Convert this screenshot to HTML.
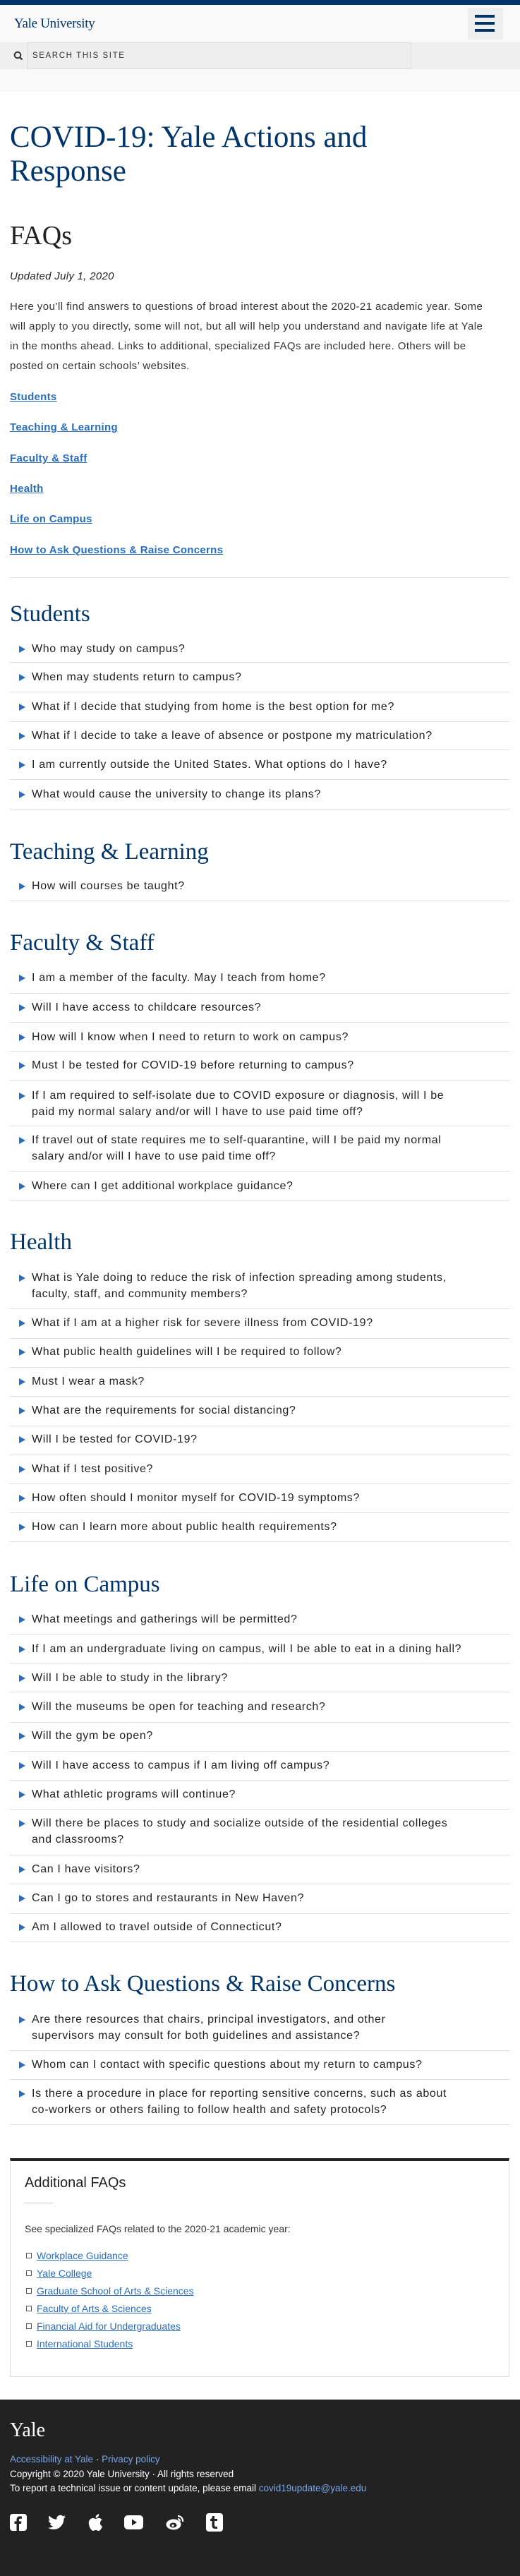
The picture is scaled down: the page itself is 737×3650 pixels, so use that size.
<!DOCTYPE html>
<html><head><meta charset="utf-8">
<style>
*{margin:0;padding:0;box-sizing:border-box}
html,body{width:737px;height:3650px;overflow:hidden;background:#fff;position:relative;font-family:"Liberation Sans",sans-serif;color:#222}
.a{position:absolute;white-space:nowrap}
.h{font-family:"Liberation Serif",serif;color:#00356b;font-size:33px;line-height:33px;left:14px}
.q{left:45px;font-size:16px;line-height:23px;letter-spacing:0.65px;color:#222}
.t{left:27px;width:0;height:0;border-left:9px solid #286dc0;border-top:5px solid transparent;border-bottom:5px solid transparent}
.s{left:14px;width:708px;height:1px;background:#ddd}
.lk{left:14px;font-size:15px;line-height:15px;font-weight:bold;color:#286dc0;text-decoration:underline;letter-spacing:0.3px}
.al{left:52px;font-size:14px;line-height:14px;color:#286dc0;text-decoration:underline}
.cb{left:37px;width:8px;height:8px;border:1px solid #555}
.ft{left:14px;font-size:13.5px;line-height:14px;color:#fff}
.ft a{color:#7aa6e6;text-decoration:none}
</style></head><body>
<div class="a" style="left:0;top:0;width:737px;height:7px;background:#00356b"></div>
<div class="a" style="left:0;top:7px;width:737px;height:53px;background:#f9f9f9"></div>
<div class="a" style="left:20px;top:24px;font-family:'Liberation Serif',serif;font-size:19px;line-height:19px;color:#00356b;letter-spacing:-0.3px">Yale University</div>
<div class="a" style="left:663px;top:11px;width:50px;height:45px;background:#efefef">
<div style="position:absolute;left:10px;top:10px;width:28px;height:4px;background:#00356b"></div>
<div style="position:absolute;left:10px;top:20px;width:28px;height:4px;background:#00356b"></div>
<div style="position:absolute;left:10px;top:30px;width:28px;height:4px;background:#00356b"></div>
</div>
<div class="a" style="left:0;top:60px;width:737px;height:38px;background:#efefef"></div>
<svg class="a" style="left:19px;top:72px" width="14" height="14" viewBox="0 0 14 14"><circle cx="6" cy="6" r="4.3" fill="none" stroke="#333" stroke-width="2"/><line x1="9" y1="9" x2="12.5" y2="12.5" stroke="#333" stroke-width="2.2"/></svg>
<div class="a" style="left:38px;top:60px;width:545px;height:38px;background:#eeeeee;border:1px solid #dcdcdc"></div>
<div class="a" style="left:46px;top:73px;font-size:11.5px;line-height:12px;letter-spacing:1.6px;color:#333">SEARCH THIS SITE</div>
<div class="a" style="left:0;top:98px;width:737px;height:32px;background:#f9f9f9"></div>

<div class="a" style="left:14px;top:171px;font-family:'Liberation Serif',serif;font-size:43px;line-height:48px;color:#00356b">COVID-19: Yale Actions and<br>Response</div>
<div class="a" style="left:14px;top:315px;font-family:'Liberation Serif',serif;font-size:38px;line-height:38px;color:#222">FAQs</div>
<div class="a" style="left:14px;top:384px;font-size:15px;line-height:15px;font-style:italic;letter-spacing:0.3px">Updated July 1, 2020</div>
<div class="a" style="left:14px;top:421px;font-size:15px;line-height:28px;letter-spacing:0.42px;color:#333">Here you’ll find answers to questions of broad interest about the 2020-21 academic year. Some<br>will apply to you directly, some will not, but all will help you understand and navigate life at Yale<br>in the months ahead. Links to additional, specialized FAQs are included here. Others will be<br>posted on certain schools’ websites.</div>
<div class="a lk" style="top:555px">Students</div>
<div class="a lk" style="top:598px">Teaching &amp; Learning</div>
<div class="a lk" style="top:642px">Faculty &amp; Staff</div>
<div class="a lk" style="top:685px">Health</div>
<div class="a lk" style="top:728px">Life on Campus</div>
<div class="a lk" style="top:772px">How to Ask Questions &amp; Raise Concerns</div>
<div class="a s" style="top:818px"></div>

<div class="a h" style="top:854px">Students</div>
<div class="a q" style="top:908px">Who may study on campus?</div><div class="a t" style="top:915px"></div><div class="a s" style="top:938px"></div>
<div class="a q" style="top:948px">When may students return to campus?</div><div class="a t" style="top:955px"></div><div class="a s" style="top:980px"></div>
<div class="a q" style="top:990px">What if I decide that studying from home is the best option for me?</div><div class="a t" style="top:997px"></div><div class="a s" style="top:1022px"></div>
<div class="a q" style="top:1031px">What if I decide to take a leave of absence or postpone my matriculation?</div><div class="a t" style="top:1038px"></div><div class="a s" style="top:1062px"></div>
<div class="a q" style="top:1072px">I am currently outside the United States. What options do I have?</div><div class="a t" style="top:1079px"></div><div class="a s" style="top:1104px"></div>
<div class="a q" style="top:1114px">What would cause the university to change its plans?</div><div class="a t" style="top:1121px"></div><div class="a s" style="top:1146px"></div>

<div class="a h" style="top:1191px">Teaching &amp; Learning</div>
<div class="a q" style="top:1244px">How will courses be taught?</div><div class="a t" style="top:1251px"></div><div class="a s" style="top:1276px"></div>

<div class="a h" style="top:1320px">Faculty &amp; Staff</div>
<div class="a q" style="top:1374px">I am a member of the faculty. May I teach from home?</div><div class="a t" style="top:1381px"></div><div class="a s" style="top:1407px"></div>
<div class="a q" style="top:1416px">Will I have access to childcare resources?</div><div class="a t" style="top:1423px"></div><div class="a s" style="top:1448px"></div>
<div class="a q" style="top:1458px">How will I know when I need to return to work on campus?</div><div class="a t" style="top:1465px"></div><div class="a s" style="top:1489px"></div>
<div class="a q" style="top:1498px">Must I be tested for COVID-19 before returning to campus?</div><div class="a t" style="top:1505px"></div><div class="a s" style="top:1531px"></div>
<div class="a q" style="top:1541px">If I am required to self-isolate due to COVID exposure or diagnosis, will I be<br>paid my normal salary and/or will I have to use paid time off?</div><div class="a t" style="top:1548px"></div><div class="a s" style="top:1595px"></div>
<div class="a q" style="top:1604px">If travel out of state requires me to self-quarantine, will I be paid my normal<br>salary and/or will I have to use paid time off?</div><div class="a t" style="top:1611px"></div><div class="a s" style="top:1659px"></div>
<div class="a q" style="top:1669px">Where can I get additional workplace guidance?</div><div class="a t" style="top:1676px"></div><div class="a s" style="top:1700px"></div>

<div class="a h" style="top:1744px">Health</div>
<div class="a q" style="top:1799px">What is Yale doing to reduce the risk of infection spreading among students,<br>faculty, staff, and community members?</div><div class="a t" style="top:1806px"></div><div class="a s" style="top:1854px"></div>
<div class="a q" style="top:1863px">What if I am at a higher risk for severe illness from COVID-19?</div><div class="a t" style="top:1870px"></div><div class="a s" style="top:1896px"></div>
<div class="a q" style="top:1904px">What public health guidelines will I be required to follow?</div><div class="a t" style="top:1911px"></div><div class="a s" style="top:1937px"></div>
<div class="a q" style="top:1946px">Must I wear a mask?</div><div class="a t" style="top:1953px"></div><div class="a s" style="top:1978px"></div>
<div class="a q" style="top:1987px">What are the requirements for social distancing?</div><div class="a t" style="top:1994px"></div><div class="a s" style="top:2020px"></div>
<div class="a q" style="top:2028px">Will I be tested for COVID-19?</div><div class="a t" style="top:2035px"></div><div class="a s" style="top:2061px"></div>
<div class="a q" style="top:2070px">What if I test positive?</div><div class="a t" style="top:2077px"></div><div class="a s" style="top:2102px"></div>
<div class="a q" style="top:2111px">How often should I monitor myself for COVID-19 symptoms?</div><div class="a t" style="top:2118px"></div><div class="a s" style="top:2143px"></div>
<div class="a q" style="top:2152px">How can I learn more about public health requirements?</div><div class="a t" style="top:2159px"></div><div class="a s" style="top:2184px"></div>

<div class="a h" style="top:2229px">Life on Campus</div>
<div class="a q" style="top:2283px">What meetings and gatherings will be permitted?</div><div class="a t" style="top:2290px"></div><div class="a s" style="top:2315px"></div>
<div class="a q" style="top:2325px">If I am an undergraduate living on campus, will I be able to eat in a dining hall?</div><div class="a t" style="top:2332px"></div><div class="a s" style="top:2356px"></div>
<div class="a q" style="top:2366px">Will I be able to study in the library?</div><div class="a t" style="top:2373px"></div><div class="a s" style="top:2397px"></div>
<div class="a q" style="top:2407px">Will the museums be open for teaching and research?</div><div class="a t" style="top:2414px"></div><div class="a s" style="top:2440px"></div>
<div class="a q" style="top:2448px">Will the gym be open?</div><div class="a t" style="top:2455px"></div><div class="a s" style="top:2481px"></div>
<div class="a q" style="top:2490px">Will I have access to campus if I am living off campus?</div><div class="a t" style="top:2497px"></div><div class="a s" style="top:2522px"></div>
<div class="a q" style="top:2531px">What athletic programs will continue?</div><div class="a t" style="top:2538px"></div><div class="a s" style="top:2563px"></div>
<div class="a q" style="top:2572px">Will there be places to study and socialize outside of the residential colleges<br>and classrooms?</div><div class="a t" style="top:2579px"></div><div class="a s" style="top:2628px"></div>
<div class="a q" style="top:2637px">Can I have visitors?</div><div class="a t" style="top:2644px"></div><div class="a s" style="top:2669px"></div>
<div class="a q" style="top:2678px">Can I go to stores and restaurants in New Haven?</div><div class="a t" style="top:2685px"></div><div class="a s" style="top:2711px"></div>
<div class="a q" style="top:2719px">Am I allowed to travel outside of Connecticut?</div><div class="a t" style="top:2726px"></div><div class="a s" style="top:2751px"></div>

<div class="a h" style="top:2795px">How to Ask Questions &amp; Raise Concerns</div>
<div class="a q" style="top:2850px">Are there resources that chairs, principal investigators, and other<br>supervisors may consult for both guidelines and assistance?</div><div class="a t" style="top:2857px"></div><div class="a s" style="top:2905px"></div>
<div class="a q" style="top:2914px">Whom can I contact with specific questions about my return to campus?</div><div class="a t" style="top:2921px"></div><div class="a s" style="top:2946px"></div>
<div class="a q" style="top:2955px">Is there a procedure in place for reporting sensitive concerns, such as about<br>co-workers or others failing to follow health and safety protocols?</div><div class="a t" style="top:2962px"></div><div class="a s" style="top:3010px"></div>

<div class="a" style="left:14px;top:3058px;width:708px;height:310px;border:1px solid #ddd;border-top:4px solid #222"></div>
<div class="a" style="left:35px;top:3083px;font-size:20px;line-height:20px;color:#222">Additional FAQs</div>
<div class="a" style="left:34px;top:3121px;width:41px;height:1px;background:#ccc"></div>
<div class="a" style="left:35px;top:3151px;font-size:14px;line-height:14px;color:#333">See specialized FAQs related to the 2020-21 academic year:</div>
<div class="a cb" style="top:3192px"></div><div class="a al" style="top:3189px">Workplace Guidance</div>
<div class="a cb" style="top:3217px"></div><div class="a al" style="top:3214px">Yale College</div>
<div class="a cb" style="top:3242px"></div><div class="a al" style="top:3239px">Graduate School of Arts &amp; Sciences</div>
<div class="a cb" style="top:3267px"></div><div class="a al" style="top:3264px">Faculty of Arts &amp; Sciences</div>
<div class="a cb" style="top:3292px"></div><div class="a al" style="top:3289px">Financial Aid for Undergraduates</div>
<div class="a cb" style="top:3317px"></div><div class="a al" style="top:3314px">International Students</div>

<div class="a" style="left:0;top:3400px;width:737px;height:250px;background:#222"></div>
<div class="a" style="left:14px;top:3430px;font-family:'Liberation Serif',serif;font-size:28px;line-height:28px;color:#fff">Yale</div>
<div class="a ft" style="top:3478px"><a>Accessibility at Yale</a> · <a>Privacy policy</a></div>
<div class="a ft" style="top:3499px">Copyright © 2020 Yale University · All rights reserved</div>
<div class="a ft" style="top:3519px">To report a technical issue or content update, please email <a>covid19update@yale.edu</a></div>

<svg class="a" style="left:14px;top:3562px" width="24" height="24" viewBox="0 0 24 24"><rect x="0" y="0" width="24" height="24" rx="4" fill="#fff"/><path d="M13 24V14h3l.5-3.5H13V8.5c0-1 .4-1.7 1.8-1.7H17V3.6c-.4 0-1.6-.2-2.9-.2-2.7 0-4.6 1.7-4.6 4.8v2.3H6.5V14h3v10z" fill="#222"/></svg>
<svg class="a" style="left:68px;top:3563px" width="25" height="22" viewBox="0 0 24 20"><path d="M24 2.4c-.9.4-1.8.6-2.8.8 1-.6 1.8-1.6 2.2-2.7-1 .6-2 1-3.1 1.2A4.9 4.9 0 0 0 11.9 6C7.8 5.8 4.2 3.9 1.7.9a4.9 4.9 0 0 0 1.5 6.6c-.8 0-1.6-.2-2.2-.6 0 2.4 1.7 4.4 3.9 4.8-.7.2-1.5.2-2.2.1.6 2 2.4 3.4 4.6 3.4A9.9 9.9 0 0 1 0 17.3 14 14 0 0 0 7.5 19.5c9.1 0 14-7.5 14-14v-.6c1-.7 1.8-1.6 2.5-2.5z" fill="#fff"/></svg>
<svg class="a" style="left:124px;top:3561px" width="22" height="26" viewBox="0 0 22 26"><path d="M18 13.8c0-3 2.5-4.4 2.6-4.5-1.4-2-3.6-2.3-4.4-2.4-1.9-.2-3.6 1.1-4.6 1.1-.9 0-2.4-1.1-3.9-1-2 0-3.9 1.2-4.9 3-2.1 3.6-.5 9 1.5 12 1 1.4 2.2 3 3.7 3 1.5-.1 2-1 3.8-1s2.3 1 3.9 1c1.6 0 2.6-1.5 3.6-2.9 1.1-1.7 1.6-3.3 1.6-3.4 0 0-3-1.2-3-4.9zM15.1 5c.8-1 1.4-2.4 1.2-3.8-1.2 0-2.6.8-3.5 1.8-.8.9-1.4 2.3-1.2 3.7 1.3.1 2.7-.7 3.5-1.7z" fill="#fff"/></svg>
<svg class="a" style="left:176px;top:3564px" width="27" height="20" viewBox="0 0 27 20"><rect x="0" y="0" width="27" height="20" rx="5" fill="#fff"/><path d="M11 5.5v9l7-4.5z" fill="#222"/></svg>
<svg class="a" style="left:235px;top:3562px" width="27" height="24" viewBox="0 0 27 24"><ellipse cx="11" cy="15" rx="10.5" ry="7.5" fill="#fff"/><ellipse cx="10.5" cy="16" rx="5" ry="3.5" fill="#222"/><circle cx="10" cy="16.5" r="1.6" fill="#fff"/><path d="M17 3a7 7 0 0 1 7 8" stroke="#fff" stroke-width="2.2" fill="none"/><path d="M17 7a3 3 0 0 1 3 3.5" stroke="#fff" stroke-width="2" fill="none"/></svg>
<svg class="a" style="left:292px;top:3561px" width="24" height="26" viewBox="0 0 24 26"><rect x="0" y="0" width="24" height="26" rx="4" fill="#fff"/><path d="M9 4h3v4h4v3h-4v6c0 1.5.8 2 2 2h2v3h-3c-3 0-4.5-1.6-4.5-4.5V11H6V8.5C8 8 9 6 9 4z" fill="#222"/></svg>
</body></html>
